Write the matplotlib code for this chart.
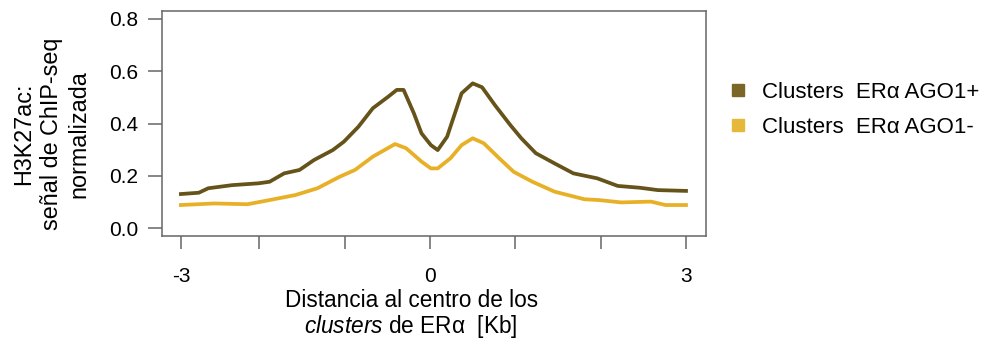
import matplotlib
matplotlib.use("Agg")
import matplotlib.pyplot as plt
from matplotlib.lines import Line2D

plt.rcParams['font.family'] = ['Liberation Sans', 'DejaVu Sans']
plt.rcParams['mathtext.fontset'] = 'custom'
plt.rcParams['mathtext.rm'] = 'Liberation Sans'
plt.rcParams['mathtext.it'] = 'Liberation Sans:italic'

# Data (distance in Kb, normalized ChIP-seq signal)
x_pos = [-2.92, -2.71, -2.60, -2.32, -2.01, -1.88, -1.71, -1.53, -1.36, -1.14,
         -1.01, -0.84, -0.67, -0.49, -0.39, -0.31, -0.19, -0.10, 0.01, 0.09,
         0.20, 0.37, 0.50, 0.61, 0.76, 0.94, 1.07, 1.24, 1.46, 1.68,
         1.96, 2.20, 2.46, 2.67, 3.00]
y_pos = [0.131, 0.136, 0.153, 0.165, 0.172, 0.178, 0.210, 0.223, 0.261, 0.299,
         0.331, 0.388, 0.459, 0.503, 0.529, 0.529, 0.440, 0.363, 0.318, 0.299,
         0.350, 0.516, 0.554, 0.539, 0.471, 0.395, 0.344, 0.287, 0.248, 0.210,
         0.191, 0.162, 0.155, 0.146, 0.143]

x_neg = [-2.92, -2.53, -2.14, -1.88, -1.58, -1.32, -1.06, -0.88, -0.67, -0.41,
         -0.28, -0.10, 0.01, 0.09, 0.24, 0.37, 0.50, 0.63, 0.81, 0.98,
         1.20, 1.46, 1.81, 1.98, 2.24, 2.59, 2.76, 3.00]
y_neg = [0.089, 0.095, 0.092, 0.108, 0.127, 0.153, 0.197, 0.223, 0.274, 0.322,
         0.306, 0.255, 0.229, 0.229, 0.268, 0.318, 0.344, 0.325, 0.268, 0.216,
         0.178, 0.140, 0.111, 0.108, 0.099, 0.102, 0.089, 0.089]

series_labels = ["Clusters  ERα AGO1+", "Clusters  ERα AGO1-"]
series_colors = ["#65531a", "#e8b026"]
legend_colors = ["#7a6626", "#e6b83a"]

x_ticks = [-2.92, -2, -1, 0, 1, 2, 3]
x_ticklabels = ["-3", "", "", "0", "", "", "3"]
y_ticks = [0.0, 0.2, 0.4, 0.6, 0.8]
y_ticklabels = ["0.0", "0.2", "0.4", "0.6", "0.8"]

fig = plt.figure(figsize=(9.86, 3.43), dpi=100)
ax = fig.add_axes([0.164, 0.313, 0.5525, 0.655])

ax.plot(x_pos, y_pos, color=series_colors[0], lw=2.7, solid_joinstyle='round')
ax.plot(x_neg, y_neg, color=series_colors[1], lw=2.7, solid_joinstyle='round')

ax.set_xlim(-3.145, 3.24)
ax.set_ylim(-0.028, 0.8306)
ax.set_xticks(x_ticks)
ax.set_xticklabels(x_ticklabels)
ax.set_yticks(y_ticks)
ax.set_yticklabels(y_ticklabels)

for s in ax.spines.values():
    s.set_color("#666666")
    s.set_linewidth(1.1)
ax.tick_params(axis='x', direction='out', length=9.5, width=1.1, color="#666666",
               pad=13, labelsize=15)
ax.tick_params(axis='y', direction='out', length=10, width=1.1, color="#666666",
               pad=7, labelsize=15)

fig.text(0.417, 0.125, "Distancia al centro de los", ha='center', va='center', fontsize=16.3)
fig.text(0.417, 0.048, r"$\mathit{clusters}$ de ERα  [Kb]", ha='center', va='center', fontsize=16.3)

fig.text(0.052, 0.61, "H3K27ac:\nseñal de ChIP-seq\nnormalizada", rotation=90,
         ha='center', va='center', fontsize=16.8, linespacing=1.25, multialignment='center')

handles = [Line2D([], [], marker='s', linestyle='', color=c, markersize=8) for c in legend_colors]
fig.legend(handles, series_labels, loc='center left', bbox_to_anchor=(0.739, 0.68),
           frameon=False, fontsize=16, handlelength=0.8, handletextpad=0.72,
           labelspacing=0.62, borderpad=0, borderaxespad=0)

fig.savefig("out.png", dpi=100)
